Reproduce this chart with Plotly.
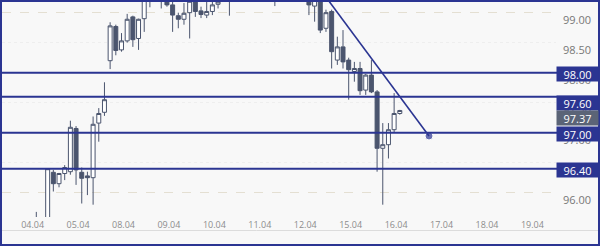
import plotly.graph_objects as go

# ---- data ----
opens = [95.35, 95.52, 95.36, 96.34, 96.15, 96.32, 96.35, 97.07, 96.34, 96.28,
         96.25, 97.16, 97.34, 98.20, 98.77, 98.38, 98.53, 98.93, 98.57, 98.90,
         99.30, 99.38, 99.45, 99.30, 99.13, 98.95, 98.89, 99.00, 99.22, 99.03,
         98.96, 99.02, 99.14, 99.20, 99.35, 99.40, 99.48, 99.42, 99.52, 99.60,
         99.55, 99.45, 99.38, 99.30, 99.42, 99.58, 99.70, 99.52, 99.35, 99.11,
         99.25, 98.74, 99.02, 98.21, 98.43, 98.21, 98.02, 98.07, 97.71, 97.96,
         97.68, 96.74, 96.80, 97.05, 97.32]
highs = [95.68, 95.57, 96.41, 96.38, 96.33, 96.46, 97.20, 97.11, 96.42, 96.35,
         97.27, 97.41, 97.84, 98.84, 98.80, 98.66, 98.98, 98.95, 98.90, 99.35,
         99.45, 99.55, 99.60, 99.40, 99.25, 99.00, 99.16, 99.30, 99.30, 99.10,
         99.18, 99.25, 99.30, 99.40, 99.50, 99.55, 99.62, 99.58, 99.70, 99.75,
         99.68, 99.60, 99.52, 99.50, 99.65, 99.80, 99.85, 99.60, 99.42, 99.32,
         99.30, 99.05, 99.05, 98.60, 98.71, 98.25, 98.18, 98.18, 97.98, 98.21,
         97.71, 97.16, 97.16, 97.66, 97.38]
lows = [95.30, 95.28, 95.30, 96.02, 96.09, 96.21, 96.30, 96.13, 95.82, 95.96,
        95.80, 96.85, 97.28, 98.06, 98.29, 98.35, 98.50, 98.43, 98.38, 98.68,
        99.09, 99.22, 99.07, 99.10, 98.68, 98.74, 98.80, 98.57, 98.93, 98.91,
        98.91, 98.96, 99.07, 99.19, 98.95, 99.30, 99.38, 99.33, 99.45, 99.48,
        99.40, 99.28, 99.11, 99.22, 99.35, 99.50, 99.45, 99.25, 98.96, 98.85,
        98.66, 98.68, 98.07, 98.13, 98.07, 97.55, 97.85, 97.63, 97.63, 97.66,
        96.35, 95.80, 96.57, 97.00, 97.30]
closes = [95.55, 95.36, 96.40, 96.15, 96.32, 96.42, 97.09, 96.38, 96.24, 96.25,
          97.14, 97.32, 97.55, 98.78, 98.37, 98.53, 98.89, 98.55, 98.89, 99.28,
          99.38, 99.45, 99.22, 99.13, 98.96, 98.89, 98.99, 99.19, 99.02, 98.97,
          99.02, 99.13, 99.18, 99.35, 99.40, 99.48, 99.42, 99.52, 99.60, 99.55,
          99.45, 99.38, 99.30, 99.42, 99.58, 99.70, 99.52, 99.35, 99.13, 99.25,
          98.71, 99.00, 98.35, 98.43, 98.18, 98.05, 98.07, 97.70, 97.96, 97.68,
          96.74, 96.80, 97.05, 97.32, 97.37]

day_labels = ["04.04", "05.04", "08.04", "09.04", "10.04", "11.04", "12.04",
              "15.04", "16.04", "17.04", "18.04", "19.04"]
candles_per_day = 8
first_day_offset = -0.65          # position of the first day label (in candle units)

levels = [98.00, 97.60, 97.00, 96.40]
last_price = 97.37

trend_x = [47.0, 69.14]
trend_y = [99.77, 96.945]

# ---- styles ----
NAVY = "#2b3592"
DARK = "#4b556e"
BG = "#f8f8f8"
x_range = [-6.04, 91.5]
y_range = [95.595, 99.178]
label_offset = 7 / 60.0           # axis labels sit ~7px under their gridlines
level_shift = [-1, -6, -1, -1]    # pixel nudges of the level tags
last_shift = -8

W, H = 600, 246
ML, MR, MT, MB = 2, 44, 2, 29
PW, PH = W - ML - MR, H - MT - MB


def px_to_paper_x(px):
    return (px - ML) / PW


def py_to_paper_y(py):
    return (H - MB - py) / PH


xs = list(range(len(opens)))

fig = go.Figure()
fig.add_trace(go.Candlestick(
    x=xs, open=opens, high=highs, low=lows, close=closes,
    increasing=dict(line=dict(color=DARK, width=1), fillcolor="#ffffff"),
    decreasing=dict(line=dict(color=DARK, width=1), fillcolor=DARK),
    whiskerwidth=0, hoverinfo="skip", showlegend=False,
))

fig.add_trace(go.Scatter(
    x=trend_x, y=trend_y, mode="lines+markers",
    line=dict(color=NAVY, width=1.6),
    marker=dict(size=[0, 8], color=NAVY),
    hoverinfo="skip", showlegend=False,
))

# empty trace that only makes the label axis (y2) exist
fig.add_trace(go.Scatter(x=[None], y=[None], yaxis="y2", mode="markers",
                         hoverinfo="skip", showlegend=False))

shapes = []
for lv in levels:
    shapes.append(dict(type="line", xref="paper", yref="y",
                       x0=px_to_paper_x(0), x1=px_to_paper_x(600), y0=lv, y1=lv,
                       line=dict(color=NAVY, width=2)))
# separator above the bottom edge
shapes.append(dict(type="line", xref="paper", yref="paper",
                   x0=px_to_paper_x(0), x1=px_to_paper_x(600),
                   y0=py_to_paper_y(230.5), y1=py_to_paper_y(230.5),
                   line=dict(color="#dcdcdc", width=1)))
# frame round the whole picture
shapes.append(dict(type="rect", xref="paper", yref="paper",
                   x0=px_to_paper_x(1), x1=px_to_paper_x(599),
                   y0=py_to_paper_y(245), y1=py_to_paper_y(1),
                   line=dict(color=NAVY, width=2), fillcolor="rgba(0,0,0,0)"))

annotations = []
for lv, sh in zip(levels, level_shift):
    annotations.append(dict(
        xref="paper", yref="y", x=px_to_paper_x(556), y=lv, xanchor="left",
        yanchor="middle", yshift=sh, text=f"{lv:.2f}", showarrow=False,
        bgcolor=NAVY, width=39, height=12, borderpad=1,
        font=dict(family="Open Sans", size=11, color="#ffffff")))
annotations.append(dict(
    xref="paper", yref="y", x=px_to_paper_x(556), y=last_price, xanchor="left",
    yanchor="middle", yshift=last_shift, text=f"{last_price:.2f}", showarrow=False,
    bgcolor="#5b6477", width=39, height=12, borderpad=1,
    font=dict(family="Open Sans", size=11, color="#ffffff")))

tickvals = [first_day_offset + candles_per_day * i for i in range(len(day_labels))]

fig.update_layout(
    width=W, height=H,
    margin=dict(l=ML, r=MR, t=MT, b=MB, pad=0),
    paper_bgcolor=BG, plot_bgcolor=BG,
    boxgap=0.3, boxgroupgap=0,
    shapes=shapes, annotations=annotations,
    xaxis=dict(range=x_range, rangeslider=dict(visible=False), showgrid=False,
               zeroline=False, showline=False, ticks="",
               tickmode="array", tickvals=tickvals, ticktext=day_labels,
               tickfont=dict(family="Open Sans", size=9, color="#8c8c8c"),
               ticklabelstandoff=1, fixedrange=True),
    yaxis=dict(range=y_range, side="right", showticklabels=False,
               showgrid=True, gridcolor="#e4dfd2", griddash="dash", gridwidth=1,
               tick0=0, dtick=1, zeroline=False, showline=False, ticks="",
               minor=dict(dtick=0.5, showgrid=True, gridcolor="#eeeeee",
                          griddash="dot", gridwidth=1),
               fixedrange=True),
    yaxis2=dict(range=[y_range[0] + label_offset, y_range[1] + label_offset],
                overlaying="y", anchor="x", side="right", showgrid=False,
                zeroline=False, showline=False, ticks="", tick0=0, dtick=0.5,
                tickformat=".2f", ticklabelstandoff=6,
                tickfont=dict(family="Open Sans", size=11, color="#777777"),
                fixedrange=True),
)

fig.write_html("out.html")
